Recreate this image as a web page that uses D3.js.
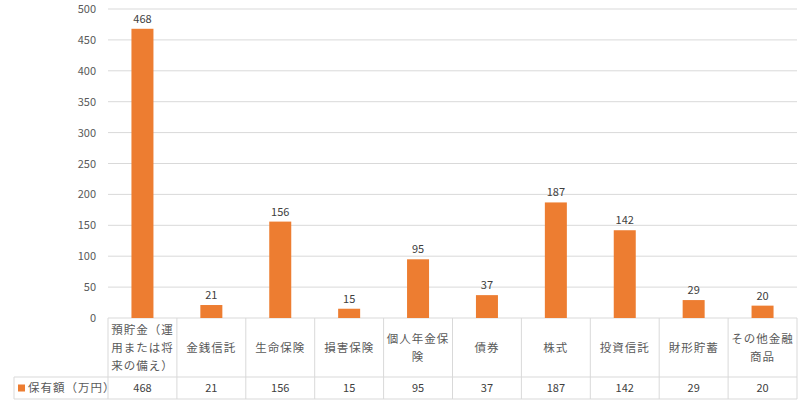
<!DOCTYPE html><html><head><meta charset="utf-8"><script src="https://cdn.jsdelivr.net/npm/d3@7"></script>
<style>body{margin:0;background:#fff}</style></head><body><svg id="c" width="800" height="402"></svg>
<script>
const categories=[["預貯金（運","用または将","来の備え）"],["金銭信託"],["生命保険"],["損害保険"],["個人年金保","険"],["債券"],["株式"],["投資信託"],["財形貯蓄"],["その他金融","商品"]];
const values=[468,21,156,15,95,37,187,142,29,20];
const yTicks=[0,50,100,150,200,250,300,350,400,450,500];
const seriesName="保有額（万円）";
const svg=d3.select("#c"),F="'Noto Sans CJK JP',sans-serif",grid="#d9d9d9",txt="#595959",col="#ED7D31";
const L=108,R=797,T=9,B=318,rowA=377,rowB=399,legL=14;
const x=d3.scaleBand().domain(d3.range(values.length)).range([L,R]);
const y=d3.scaleLinear().domain([0,500]).range([B,T]);
svg.append("g").selectAll("line").data(yTicks).join("line").attr("x1",L).attr("x2",R).attr("y1",d=>y(d)).attr("y2",d=>y(d)).attr("stroke",grid);
svg.append("g").selectAll("text").data(yTicks).join("text").attr("x",L-12).attr("y",d=>y(d)+4).attr("text-anchor","end").attr("font-size",11).attr("font-family",F).attr("fill",txt).text(d=>d);
const bw=22;
svg.append("g").selectAll("rect").data(values).join("rect").attr("x",(d,i)=>x(i)+x.bandwidth()/2-bw/2).attr("width",bw).attr("y",d=>y(d)).attr("height",d=>B-y(d)).attr("fill",col);
svg.append("g").selectAll("text").data(values).join("text").attr("x",(d,i)=>x(i)+x.bandwidth()/2).attr("y",d=>y(d)-6).attr("text-anchor","middle").attr("font-size",11).attr("font-family",F).attr("fill","#404040").text(d=>d);
// table
const g=svg.append("g").attr("stroke",grid).attr("fill","none");
g.append("line").attr("x1",legL).attr("x2",R).attr("y1",rowA).attr("y2",rowA);
g.append("line").attr("x1",legL).attr("x2",R).attr("y1",rowB).attr("y2",rowB);
d3.range(values.length+1).forEach(i=>{const xx=i<values.length?x(i):R;g.append("line").attr("x1",xx).attr("x2",xx).attr("y1",B).attr("y2",rowB);});
g.append("line").attr("x1",legL).attr("x2",legL).attr("y1",rowA).attr("y2",rowB);
categories.forEach((lines,i)=>{const cx=x(i)+x.bandwidth()/2,lh=18,y0=(B+rowA)/2-(lines.length-1)*lh/2+4;
lines.forEach((s,j)=>svg.append("text").attr("x",cx).attr("y",y0+j*lh).attr("text-anchor","middle").attr("font-size",11.5).attr("font-family",F).attr("fill",txt).attr("letter-spacing",1).text(s));});
svg.append("g").selectAll("text").data(values).join("text").attr("x",(d,i)=>x(i)+x.bandwidth()/2).attr("y",(rowA+rowB)/2+4).attr("text-anchor","middle").attr("font-size",11).attr("font-family",F).attr("fill","#404040").text(d=>d);
svg.append("rect").attr("x",legL+4).attr("y",(rowA+rowB)/2-3.5).attr("width",7).attr("height",7).attr("fill",col);
svg.append("text").attr("x",legL+14).attr("y",(rowA+rowB)/2+4).attr("font-size",11.5).attr("font-family",F).attr("fill",txt).attr("letter-spacing",1).text(seriesName);
</script></body></html>
